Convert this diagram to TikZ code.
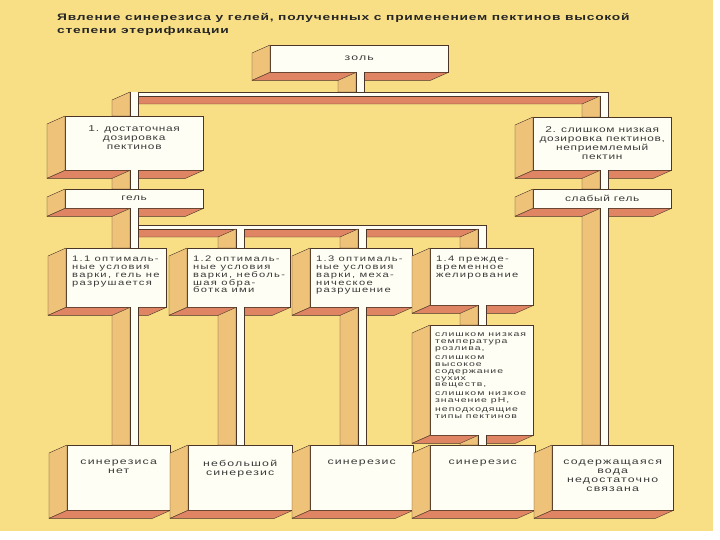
\documentclass[tikz,border=0pt]{standalone}
\usepackage{fontspec}
\setmainfont{Liberation Sans}
\newfontfamily\bxfont[FakeStretch=1.45,LetterSpace=14]{Liberation Sans}
\newfontfamily\hdfont[FakeStretch=1.4,LetterSpace=8]{Liberation Sans}
\newfontfamily\smfont[FakeStretch=1.4,LetterSpace=16]{Liberation Sans}
\newfontfamily\lgfont[FakeStretch=1.5,LetterSpace=14]{Liberation Sans}
\newfontfamily\ttlfont[FakeStretch=1.45,LetterSpace=8]{Liberation Sans}
\usetikzlibrary{calc}
\definecolor{bgy}{HTML}{F8DF86}
\definecolor{tanc}{HTML}{EFC27A}
\definecolor{salm}{HTML}{DF8564}
\definecolor{frontc}{HTML}{FFFEF4}
\definecolor{edgec}{HTML}{4A3526}
\definecolor{txtc}{HTML}{3A3A3A}
\tikzset{
  front/.style={draw=edgec, line width=0.4pt, fill=frontc, inner sep=0pt, anchor=north west},
  sideface/.style={draw=edgec, line width=0.4pt, fill=tanc, line join=round},
  underface/.style={draw=edgec, line width=0.4pt, fill=salm, line join=round},
  lbl/.style={inner sep=0pt, text=txtc, align=center},
  big/.style={font=\bxfont\fontsize{8.5}{9}\selectfont},
  head/.style={font=\hdfont\fontsize{8.5}{9}\selectfont},
  small/.style={font=\smfont\fontsize{8}{7.8}\selectfont, align=left},
  tiny/.style={font=\lgfont\fontsize{7}{6.8}\selectfont, align=left},
}
\newcommand\mkbox[5]{%
  \node[front, minimum width={(#4)-(#2)}, minimum height={(#5)-(#3)}] (#1) at (#2,#3) {};
  \filldraw[sideface] (#1.north west) -- ($(#1.north west)+(-18,8)$) -- ($(#1.south west)+(-18,8)$) -- (#1.south west) -- cycle;
  \filldraw[underface] (#1.south west) -- (#1.south east) -- ($(#1.south east)+(-18,8)$) -- ($(#1.south west)+(-18,8)$) -- cycle;
}
% beam segment: #1 = x coordinate name, #2 = upper point, #3 = lower point
\newcommand\beamseg[3]{%
  \filldraw[sideface] (#2 -| #1) -- ($(#2 -| #1)+(-18,8)$) -- ($(#3 -| #1)+(-18,0)$) -- (#3 -| #1) -- cycle;
  \fill[frontc] (#2 -| #1) rectangle ($(#3 -| #1)+(8,0)$);
  \draw[edgec, line width=0.4pt] (#2 -| #1) -- (#3 -| #1) ($(#2 -| #1)+(8,0)$) -- ($(#3 -| #1)+(8,0)$);
}
\newcommand\mkbar[2]{%
  \filldraw[underface] ($(#1)+(0,4)$) -- ($(#2)+(0,4)$) -- ($(#2)+(-18,12)$) -- ($(#1)+(-18,12)$) -- cycle;
  \filldraw[front] (#1) rectangle ($(#2)+(0,4)$);
}
\begin{document}
\begin{tikzpicture}[x=1pt,y=-1pt]
\useasboundingbox (0,0) rectangle (720,540);
\fill[white] (0,0) rectangle (720,540);
\fill[bgy] (0,0) rectangle (713,531);

% beam x positions and bar ends
\coordinate (x0) at (356,0);
\coordinate (xL) at (130,0);
\coordinate (x2) at (236,0);
\coordinate (x3) at (358,0);
\coordinate (x4) at (478,0);
\coordinate (xR) at (600,0);
\coordinate (h1L) at (130,92);
\coordinate (h1R) at (608,92);
\coordinate (h2L) at (130,225);
\coordinate (h2R) at (486,225);
\coordinate (h1Rb) at (608,96);
\coordinate (h2b) at (130,229);

% bars
\mkbar{h1L}{h1R}
\mkbar{h2L}{h2R}

% boxes
\mkbox{zol}{270}{45}{448}{72}
\mkbox{b1}{65}{116}{203}{170}
\mkbox{b2}{533}{117}{671}{170}
\mkbox{gel}{65}{189}{203}{208}
\mkbox{sgel}{533}{189}{671}{208}
\mkbox{b11}{66}{248}{166}{307}
\mkbox{b12}{187}{248}{290}{307}
\mkbox{b13}{310}{248}{412}{307}
\mkbox{b14}{430}{248}{533}{305}
\mkbox{blong}{430}{325}{533}{435}
\mkbox{bA}{67}{445}{170}{510}
\mkbox{bB}{188}{445}{292}{510}
\mkbox{bC}{310}{445}{413}{510}
\mkbox{bD}{430}{445}{535}{510}
\mkbox{bE}{552}{445}{673}{510}

% beams
\beamseg{x0}{zol.south}{h1L}
\beamseg{xL}{h1L}{b1.north}
\beamseg{xL}{b1.south}{gel.north}
\beamseg{xL}{gel.south}{b11.north}
\beamseg{xL}{b11.south}{bA.north}
\beamseg{xR}{h1Rb}{b2.north}
\beamseg{xR}{b2.south}{sgel.north}
\beamseg{xR}{sgel.south}{bE.north}
\beamseg{x2}{h2b}{b12.north}
\beamseg{x2}{b12.south}{bB.north}
\beamseg{x3}{h2b}{b13.north}
\beamseg{x3}{b13.south}{bC.north}
\beamseg{x4}{h2b}{b14.north}
\beamseg{x4}{b14.south}{blong.north}
\beamseg{x4}{blong.south}{bD.north}

% title
\node[inner sep=0pt, anchor=north west, align=left, text=black!85,
      font=\ttlfont\bfseries\fontsize{9.5}{13}\selectfont] (title) at (57,13)
  {Явление синерезиса у гелей, полученных с применением пектинов высокой\\степени этерификации};

% texts
\node[lbl, big] (tzol) at (zol.center) {золь};
\node[lbl, head, anchor=north] (tb1) at ($(b1.north)+(0,9)$) {1. достаточная\\дозировка\\пектинов};
\node[lbl, head, anchor=north] (tb2) at ($(b2.north)+(0,9)$) {2. слишком низкая\\дозировка пектинов,\\неприемлемый\\пектин};
\node[lbl, head] (tgel) at (gel.center) {гель};
\node[lbl, head] (tsgel) at (sgel.center) {слабый гель};
\node[lbl, small, anchor=north west] (t11) at ($(b11.north west)+(6,8)$) {1.1 оптималь-\\ные условия\\варки, гель не\\разрушается};
\node[lbl, small, anchor=north west] (t12) at ($(b12.north west)+(6,8)$) {1.2 оптималь-\\ные условия\\варки, неболь-\\шая обра-\\ботка ими};
\node[lbl, small, anchor=north west] (t13) at ($(b13.north west)+(6,8)$) {1.3 оптималь-\\ные условия\\варки, меха-\\ническое\\разрушение};
\node[lbl, small, anchor=north west] (t14) at ($(b14.north west)+(6,8)$) {1.4 прежде-\\временное\\желирование};
\node[lbl, tiny, anchor=north west] (tlong) at ($(blong.north west)+(5,8)$) {слишком низкая\\температура\\розлива,\\[2.3pt]слишком\\высокое\\содержание\\сухих\\веществ,\\[2.3pt]слишком низкое\\значение рН,\\[2.3pt]неподходящие\\типы пектинов};
\node[lbl, big, anchor=north] (tA) at ($(bA.north)+(0,15)$) {синерезиса\\нет};
\node[lbl, big, anchor=north] (tB) at ($(bB.north)+(0,15)$) {небольшой\\синерезис};
\node[lbl, big, anchor=north] (tC) at ($(bC.north)+(0,15)$) {синерезис};
\node[lbl, big, anchor=north] (tD) at ($(bD.north)+(0,15)$) {синерезис};
\node[lbl, big, anchor=north] (tE) at ($(bE.north)+(0,15)$) {содержащаяся\\вода\\недостаточно\\связана};
\end{tikzpicture}
\end{document}
